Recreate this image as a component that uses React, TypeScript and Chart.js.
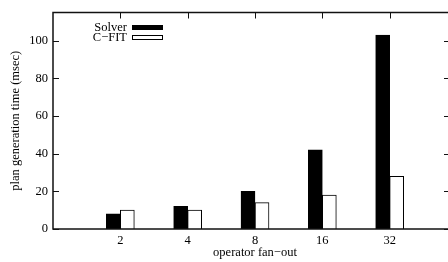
import React, { useEffect, useRef } from 'react';
import { Chart, registerables } from 'chart.js';

Chart.register(...registerables);

const categories = ['2', '4', '8', '16', '32'];
const solverValues = [8, 12, 20, 42, 103];
const cfitValues = [10, 10, 14, 18, 28];
const yTickValues = [0, 20, 40, 60, 80, 100];
const seriesNames = ['Solver', 'C\u2212FIT'];
const xTitle = 'operator fan\u2212out';
const yTitle = 'plan generation time (msec)';

const FONT = 'Liberation Serif';
const FSIZE = 12.5;

const framePlugin = {
  id: 'gnuFrame',
  afterDraw(chart: any) {
    const { ctx, chartArea } = chart;
    const { left, right, top, bottom } = chartArea;
    const xs = chart.scales.x;
    const ys = chart.scales.y;
    ctx.save();
    ctx.strokeStyle = '#111';
    ctx.lineWidth = 1.5;
    ctx.strokeRect(left, top, right - left, bottom - top);
    ctx.lineWidth = 1;
    // top ticks (mirror of x)
    categories.forEach((_, i) => {
      const px = Math.round(xs.getPixelForValue(i)) + 0.5;
      ctx.beginPath();
      ctx.moveTo(px, top);
      ctx.lineTo(px, top + 6);
      ctx.stroke();
    });
    // left and right ticks
    yTickValues.forEach((v) => {
      const py = Math.round(ys.getPixelForValue(v)) + 0.5;
      ctx.beginPath();
      ctx.moveTo(left, py);
      ctx.lineTo(left + 6, py);
      ctx.stroke();
      ctx.beginPath();
      ctx.moveTo(right, py);
      ctx.lineTo(right - 13, py);
      ctx.stroke();
    });
    // legend
    ctx.font = `${FSIZE}px "${FONT}"`;
    ctx.textAlign = 'right';
    ctx.textBaseline = 'middle';
    chart.data.datasets.forEach((ds: any, i: number) => {
      const cy = 27.5 + i * 10;
      ctx.fillStyle = '#000';
      ctx.fillText(ds.label, 127, cy + 0.5);
      ctx.fillStyle = ds.backgroundColor;
      ctx.fillRect(132, cy - 2.5, 31, 5);
      ctx.strokeStyle = '#000';
      ctx.strokeRect(132.5, cy - 2, 30, 4);
    });
    ctx.restore();
  },
};

export default function App() {
  const ref = useRef<HTMLCanvasElement>(null);

  useEffect(() => {
    if (!ref.current) return;
    const chart = new Chart(ref.current, {
      type: 'bar',
      data: {
        datasets: [
          {
            label: seriesNames[0],
            data: solverValues.map((v, i) => ({ x: i, y: v })),
            backgroundColor: '#000',
            borderColor: '#000',
            borderWidth: 1,
            barThickness: 14,
          },
          {
            label: seriesNames[1],
            data: cfitValues.map((v, i) => ({ x: i, y: v })),
            backgroundColor: '#fff',
            borderColor: '#000',
            borderWidth: 1,
            barThickness: 14,
          },
        ],
      },
      options: {
        animation: false,
        responsive: false,
        layout: { padding: { top: 9, right: 3, left: 0, bottom: 0 } },
        plugins: { legend: { display: false }, tooltip: { enabled: false } },
        scales: {
          x: {
            type: 'linear',
            offset: false,
            min: -1,
            max: 5,
            afterBuildTicks: (s: any) => {
              s.ticks = categories.map((_, i) => ({ value: i }));
            },
            afterFit: (s: any) => {
              s.height = 33;
            },
            ticks: {
              callback: (v: any) => categories[v] ?? '',
              color: '#000',
              font: { family: FONT, size: FSIZE },
              padding: 4,
              maxRotation: 0,
              autoSkip: false,
            },
            grid: { display: false, drawTicks: false, offset: false },
            border: { display: false },
            title: {
              display: true,
              text: xTitle,
              color: '#000',
              font: { family: FONT, size: FSIZE },
              padding: { top: 0, bottom: 2 },
            },
          },
          y: {
            type: 'linear',
            min: 0,
            max: 115,
            afterBuildTicks: (s: any) => {
              s.ticks = yTickValues.map((v) => ({ value: v }));
            },
            afterFit: (s: any) => {
              s.width = 53;
            },
            ticks: {
              color: '#000',
              font: { family: FONT, size: FSIZE },
              padding: 5,
            },
            grid: { display: false, drawTicks: false },
            border: { display: false },
            title: {
              display: true,
              text: yTitle,
              color: '#000',
              font: { family: FONT, size: FSIZE },
              padding: { top: 8, bottom: 0 },
            },
          },
        },
      },
      plugins: [framePlugin],
    } as any);
    return () => chart.destroy();
  }, []);

  return (
    <div
      style={{
        position: 'fixed',
        left: 0,
        top: 0,
        width: 448,
        height: 262,
        overflow: 'hidden',
        background: '#fff',
      }}
    >
      <canvas ref={ref} width={460} height={262} style={{ display: 'block', width: 460, height: 262 }} />
    </div>
  );
}
